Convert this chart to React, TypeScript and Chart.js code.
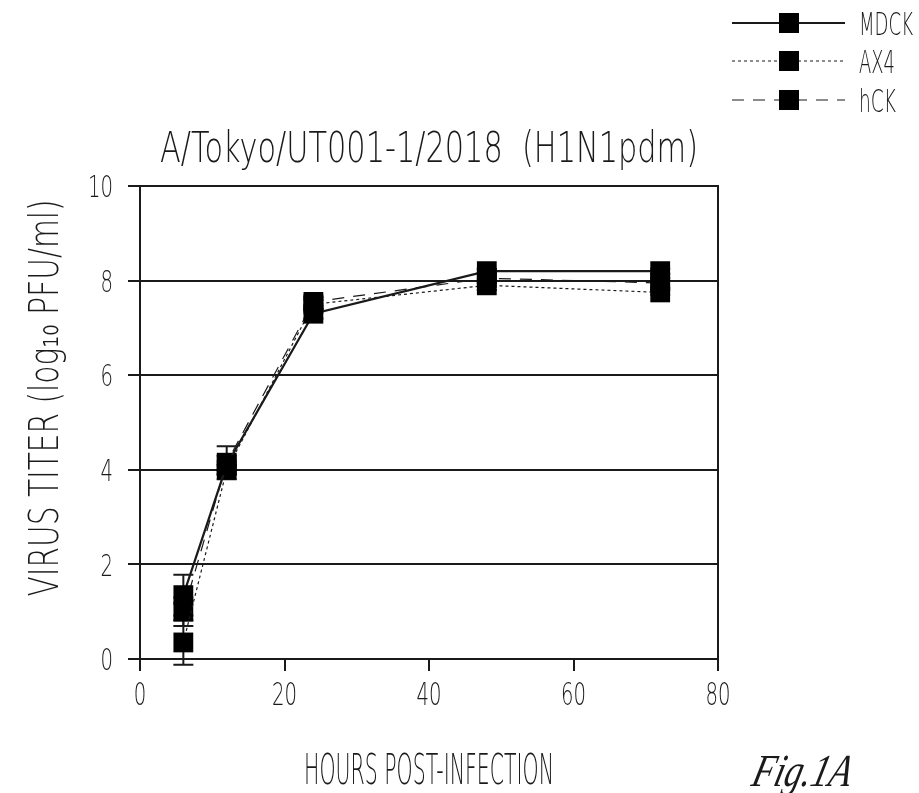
import React, { useEffect, useRef } from "react";
import { Chart, registerables } from "chart.js";

Chart.register(...registerables);

const hours = [6, 12, 24, 48, 72];
const mdck = [1.35, 4.1, 7.3, 8.2, 8.2];
const ax4 = [0.35, 4.0, 7.5, 7.9, 7.75];
const hck = [1.0, 4.15, 7.55, 8.05, 7.95];
const mdckErr = [0.43, 0.2, 0.1, 0.05, 0.05];
const ax4Err = [0.47, 0.1, 0.1, 0.1, 0.05];
const hckErr = [0.3, 0.35, 0.1, 0.1, 0.1];
const seriesNames = ["MDCK", "AX4", "hCK"];
const titleText = "A/Tokyo/UT001-1/2018  (H1N1pdm)";
const xTitle = "HOURS POST-INFECTION";
const yTitle = "VIRUS TITER (log\u2081\u2080 PFU/ml)";
const figLabel = "Fig.1A";

const INK = "#1a1a1a";
const dashes = [[], [3, 3], [12, 9]];
const widths = [2.2, 1.2, 1.2];
const errs = [mdckErr, ax4Err, hckErr];

function fitText(ctx: any, text: string, x: number, y: number, size: number, width: number | null, align: string, rotate = false, sxDefault = 0.62) {
  ctx.save();
  ctx.translate(x, y);
  if (rotate) ctx.rotate(-Math.PI / 2);
  ctx.font = `200 ${size}px "DejaVu Sans", sans-serif`;
  const w = ctx.measureText(text).width;
  const sx = width ? width / w : sxDefault;
  ctx.scale(sx, 1);
  ctx.fillStyle = INK;
  ctx.textAlign = align;
  ctx.textBaseline = "alphabetic";
  ctx.fillText(text, 0, size * 0.729 / 2);
  ctx.restore();
}

const errorBarPlugin = {
  id: "errorBars",
  beforeDatasetsDraw(chart: any) {
    const ctx = chart.ctx;
    const xs = chart.scales.x;
    const ys = chart.scales.y;
    ctx.save();
    ctx.strokeStyle = INK;
    ctx.lineWidth = 2;
    chart.data.datasets.forEach((ds: any, i: number) => {
      ds.data.forEach((p: any, j: number) => {
        const e = errs[i][j];
        const x = xs.getPixelForValue(p.x);
        const yTop = ys.getPixelForValue(p.y + e);
        const yBot = ys.getPixelForValue(p.y - e);
        ctx.beginPath();
        ctx.moveTo(x, yTop);
        ctx.lineTo(x, yBot);
        ctx.moveTo(x - 10, yTop);
        ctx.lineTo(x + 10, yTop);
        ctx.moveTo(x - 10, yBot);
        ctx.lineTo(x + 10, yBot);
        ctx.stroke();
      });
    });
    ctx.restore();
  },
};

const textPlugin = {
  id: "texts",
  afterDraw(chart: any) {
    const { ctx, chartArea } = chart;
    const xs = chart.scales.x;
    const ys = chart.scales.y;
    const cx = (chartArea.left + chartArea.right) / 2;
    ctx.save();
    ctx.strokeStyle = INK;
    ctx.lineWidth = 2;
    ctx.strokeRect(chartArea.left, chartArea.top, chartArea.right - chartArea.left, chartArea.bottom - chartArea.top);

    // tick labels from the library's scales
    ys.ticks.forEach((t: any) => {
      const s = String(t.value);
      fitText(ctx, s, chartArea.left - 27, ys.getPixelForValue(t.value), 31, s.length * 12.5, "right");
    });
    xs.ticks.forEach((t: any) => {
      const s = String(t.value);
      fitText(ctx, s, xs.getPixelForValue(t.value), chartArea.bottom + 34, 32, s.length * 12.5, "center");
    });

    // titles
    fitText(ctx, titleText, cx, 146, 43, 538, "center");
    fitText(ctx, xTitle, cx, 768, 43, 250, "center");
    fitText(ctx, yTitle, 43, 398, 40, 397, "center", true);

    // legend
    const rows = [23, 61, 100];
    const legendW = [54, 36, 37];
    seriesNames.forEach((name, i) => {
      const y = rows[i];
      ctx.strokeStyle = INK;
      ctx.lineWidth = widths[i];
      ctx.setLineDash(dashes[i]);
      ctx.beginPath();
      ctx.moveTo(732, y);
      ctx.lineTo(845, y);
      ctx.stroke();
      ctx.setLineDash([]);
      ctx.fillStyle = "#000";
      ctx.fillRect(779, y - 10, 20, 20);
      fitText(ctx, name, 859, y, 32, legendW[i], "left");
    });

    // figure label
    ctx.save();
    ctx.translate(750, 786);
    ctx.transform(0.78, 0, -0.25, 1, 0, 0);
    ctx.font = 'italic 46px "Liberation Serif", "DejaVu Serif", serif';
    ctx.fillStyle = INK;
    ctx.textAlign = "left";
    ctx.textBaseline = "alphabetic";
    ctx.fillText(figLabel, 0, 0);
    ctx.restore();

    ctx.restore();
  },
};

export default function App() {
  const ref = useRef<HTMLCanvasElement | null>(null);
  useEffect(() => {
    if (!ref.current) return;
    const mk = (vals: number[]) => hours.map((h, i) => ({ x: h, y: vals[i] }));
    const chart = new Chart(ref.current, {
      type: "scatter",
      data: {
        datasets: [mdck, ax4, hck].map((vals, i) => ({
          label: seriesNames[i],
          data: mk(vals),
          showLine: true,
          borderColor: INK,
          backgroundColor: "#000",
          borderWidth: widths[i],
          borderDash: dashes[i],
          pointStyle: "rect",
          pointRadius: 14,
          pointHoverRadius: 14,
          pointBorderWidth: 0,
          pointBackgroundColor: "#000",
          clip: false,
        })),
      },
      options: {
        animation: false,
        responsive: false,
        layout: { padding: { top: 186, left: 0, right: 201, bottom: 0 } },
        plugins: {
          legend: { display: false },
          tooltip: { enabled: false },
          title: { display: false },
        },
        scales: {
          x: {
            type: "linear",
            min: 0,
            max: 80,
            ticks: { stepSize: 20, display: false },
            grid: { drawOnChartArea: false, drawTicks: true, tickLength: 12, color: INK, lineWidth: 2 },
            border: { display: true, color: INK, width: 2 },
            title: { display: false },
            afterFit(scale: any) {
              scale.height = 134;
            },
          },
          y: {
            type: "linear",
            min: 0,
            max: 10,
            ticks: { stepSize: 2, display: false },
            grid: { drawOnChartArea: true, drawTicks: true, tickLength: 12, color: INK, lineWidth: 2 },
            border: { display: true, color: INK, width: 2 },
            title: { display: false },
            afterFit(scale: any) {
              scale.width = 140;
            },
          },
        },
      },
      plugins: [errorBarPlugin, textPlugin],
    } as any);
    return () => chart.destroy();
  }, []);
  return (
    <div style={{ position: "absolute", left: 0, top: 0, width: 919, height: 793, background: "#fff" }}>
      <canvas ref={ref} width={919} height={793} />
    </div>
  );
}
